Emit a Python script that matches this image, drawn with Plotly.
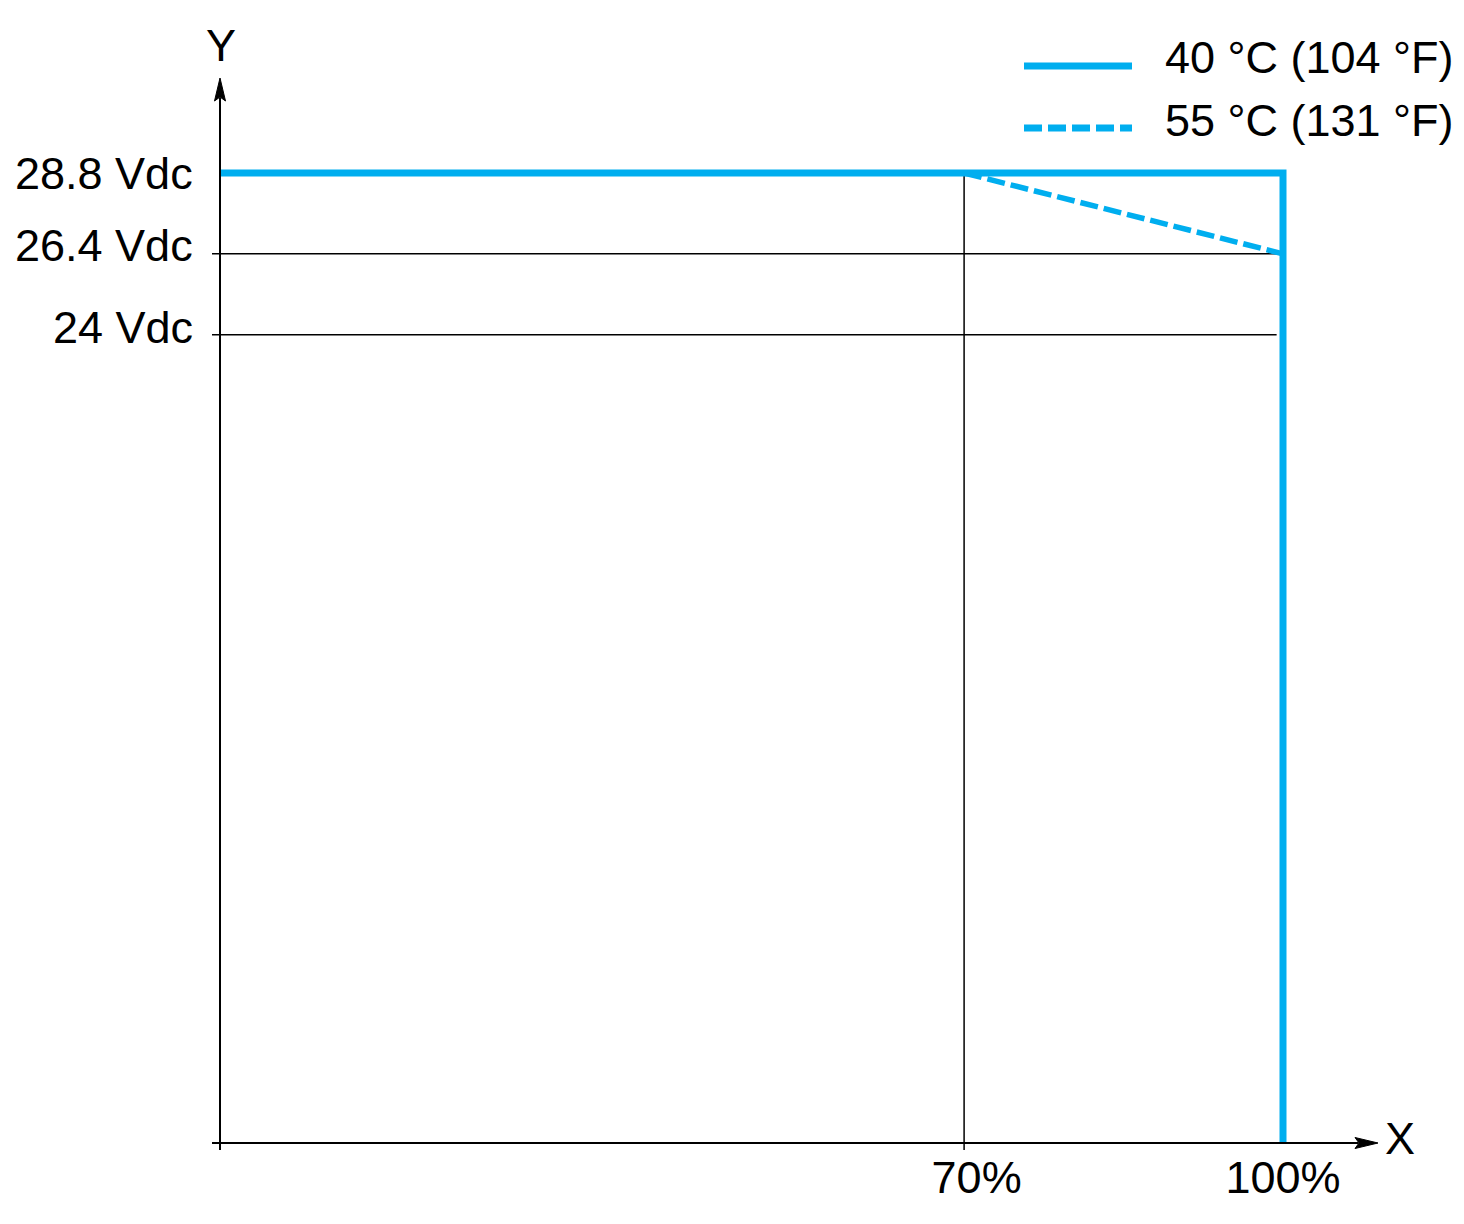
import plotly.graph_objects as go

# ---- data ----
load_40 = [0, 100, 100]
volt_40 = [28.8, 28.8, 0]
load_55 = [70, 100]
volt_55 = [28.8, 26.4]
x_tick_vals = [70, 100]
x_tick_text = ["\u00a0\u00a070%", "100%"]
y_tick_vals = [24, 26.4, 28.8]
y_tick_text = ["24 Vdc", "26.4 Vdc", "28.8 Vdc"]
grid_y = [24, 26.4]
grid_x = [70]
legend_names = ["40 °C (104 °F)", "55 °C (131 °F)"]

# ---- geometry (pixel mapping of the axes, page has an 8px body margin) ----
W, H = 1464, 1224
OFF = 8
X0, XS = 220.0 - OFF, 10.63   # figure px of x=0, px per %
Y0, YS = 1143.0 - OFF, 33.68  # figure px of y=0, px per V
def vx(px):
    return (px - OFF - X0) / XS
def vy(py):
    return (Y0 - (py - OFF)) / YS

BLUE = "#00AEEF"
FONT = "Liberation Sans, Arial, sans-serif"
FS = 45
y_label_shift = [7, 8, 0]   # label nudges (px) as in the original drawing

fig = go.Figure()

fig.add_trace(go.Scatter(x=load_55, y=volt_55, mode="lines",
                         line=dict(color=BLUE, width=5.5, dash="18px,6px"),
                         name=legend_names[1], showlegend=False, hoverinfo="skip"))
fig.add_trace(go.Scatter(x=load_40, y=volt_40, mode="lines",
                         line=dict(color=BLUE, width=7),
                         name=legend_names[0], showlegend=False, hoverinfo="skip"))

shapes = []
# grid lines (with their little tick stubs)
for g in grid_y:
    shapes.append(dict(type="line", xref="x", yref="y", x0=vx(212), x1=99.4, y0=g, y1=g,
                       line=dict(color="black", width=1.5), layer="below"))
for g in grid_x:
    shapes.append(dict(type="line", xref="x", yref="y", x0=g, x1=g, y0=vy(1150), y1=volt_40[0],
                       line=dict(color="black", width=1.5), layer="below"))
# axis lines
shapes.append(dict(type="line", xref="x", yref="y", x0=0, x1=0, y0=vy(1150), y1=vy(98),
                   line=dict(color="black", width=2)))
shapes.append(dict(type="line", xref="x", yref="y", x0=vx(212), x1=vx(1358), y0=0, y1=0,
                   line=dict(color="black", width=2)))
# arrow heads
shapes.append(dict(type="path", xref="x", yref="y",
                   path=f"M {vx(220)} {vy(78)} L {vx(225.5)} {vy(101)} L {vx(220)} {vy(97)} L {vx(214.5)} {vy(101)} Z",
                   fillcolor="black", line=dict(color="black", width=1)))
shapes.append(dict(type="path", xref="x", yref="y",
                   path=f"M {vx(1378)} {vy(1143)} L {vx(1355)} {vy(1137.5)} L {vx(1359)} {vy(1143)} L {vx(1355)} {vy(1148.5)} Z",
                   fillcolor="black", line=dict(color="black", width=1)))
# legend samples
shapes.append(dict(type="line", xref="x", yref="y", x0=vx(1024), x1=vx(1132), y0=vy(66), y1=vy(66),
                   line=dict(color=BLUE, width=7)))
shapes.append(dict(type="line", xref="x", yref="y", x0=vx(1024), x1=vx(1132), y0=vy(128), y1=vy(128),
                   line=dict(color=BLUE, width=7, dash="18px,6px")))

annotations = [
    dict(x=vx(1163), y=vy(57), xref="x", yref="y", text=legend_names[0], showarrow=False,
         xanchor="left", yanchor="middle", font=dict(size=FS, family=FONT, color="black")),
    dict(x=vx(1163), y=vy(120), xref="x", yref="y", text=legend_names[1], showarrow=False,
         xanchor="left", yanchor="middle", font=dict(size=FS, family=FONT, color="black")),
    dict(x=vx(221), y=vy(45), xref="x", yref="y", text="Y", showarrow=False,
         xanchor="center", yanchor="middle", font=dict(size=FS, family=FONT, color="black")),
    dict(x=vx(1400), y=vy(1138), xref="x", yref="y", text="X", showarrow=False,
         xanchor="center", yanchor="middle", font=dict(size=FS, family=FONT, color="black")),
]
for v, t, s in zip(y_tick_vals, y_tick_text, y_label_shift):
    annotations.append(dict(x=vx(195), y=v, xref="x", yref="y", text=t, showarrow=False,
                            xanchor="right", yanchor="middle", yshift=s,
                            font=dict(size=FS, family=FONT, color="black")))

fig.update_layout(
    width=W, height=H,
    margin=dict(l=0, r=0, t=0, b=0, pad=0),
    paper_bgcolor="white", plot_bgcolor="white",
    showlegend=False,
    shapes=shapes, annotations=annotations,
    xaxis=dict(range=[vx(OFF), vx(W + OFF)], showgrid=False, zeroline=False, showline=False,
               tickvals=x_tick_vals, ticktext=x_tick_text, ticks="",
               tickfont=dict(size=FS, family=FONT, color="black"),
               anchor="free", position=(H - Y0) / H, ticklabelstandoff=4,
               fixedrange=True),
    yaxis=dict(range=[vy(H + OFF), vy(OFF)], showgrid=False, zeroline=False, showline=False,
               tickvals=y_tick_vals, showticklabels=False, ticks="",
               fixedrange=True),
)

fig.write_html("out.html")
